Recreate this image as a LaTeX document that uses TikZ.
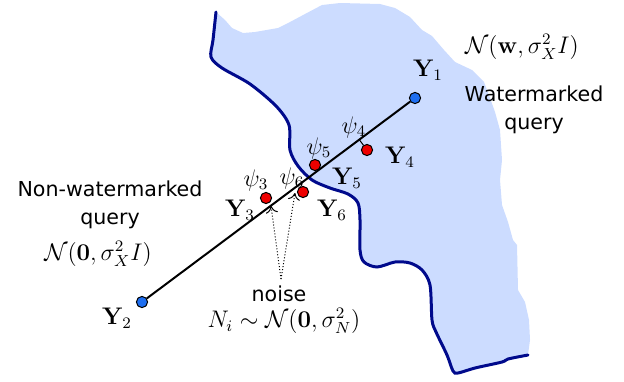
\documentclass[tikz,border=0pt]{standalone}
\usepackage[no-math]{fontspec}
\usepackage{amsmath,amssymb}
\usepackage{tikz}
\usetikzlibrary{arrows.meta,positioning,calc}
\newfontfamily\querysans{DejaVu Sans}
\definecolor{wmfill}{HTML}{CCDCFF}
\definecolor{wmborder}{HTML}{000A8C}
\definecolor{dotred}{HTML}{EE0000}
\definecolor{dotblue}{HTML}{1E6EF0}

\begin{document}
\begin{tikzpicture}[x=0.5pt, y=-0.5pt,
  dot/.style={circle, draw=black, line width=0.5pt, inner sep=0pt, minimum size=5.6pt},
  reddot/.style={dot, fill=dotred},
  bluedot/.style={dot, fill=dotblue},
  lab/.style={inner sep=0pt, font=\fontsize{11.6}{14}\selectfont},
  txt/.style={inner sep=0pt, align=center, font=\querysans\fontsize{10.3}{14}\selectfont},
  query/.style={line width=1pt},
  noisearrow/.style={densely dotted, line width=0.5pt, -{To[length=3.5pt, width=6pt]}}
]
\useasboundingbox (0,0) rectangle (624,381);

% watermarked region
\fill[wmfill] plot[smooth, tension=0.5] coordinates {(216,12) (213,40) (211,57) (222,68) (250,84) (276,106) (289,125) (290,150) (298,166) (312,180) (330,188) (348,194) (358,203) (360,220) (360,250) (364,262) (377,267) (395,262) (410,263) (422,270) (430,285) (432,320) (436,332) (447,355) (453,371) (458,373) (475,368) (502,362) (508,359) (528,355)}
  -- (530,340) -- (529,320) -- (525,302) -- (518,290) -- (517,245) -- (513,240) -- (508,222) -- (502,205) -- (500,180) -- (502,160) -- (500,130) -- (495,112) -- (490,98) -- (484,82) -- (472,70) -- (455,62) -- (444,50) -- (432,36) -- (422,30) -- (410,17) -- (395,8) -- (380,4) -- (340,3) -- (322,5) -- (305,14) -- (290,22) -- (278,28) -- (255,32) -- (243,33) -- (232,28) -- (225,20) -- cycle;
\draw[wmborder, line width=1.5pt, line cap=round] plot[smooth, tension=0.5] coordinates {(216,12) (213,40) (211,57) (222,68) (250,84) (276,106) (289,125) (290,150) (298,166) (312,180) (330,188) (348,194) (358,203) (360,220) (360,250) (364,262) (377,267) (395,262) (410,263) (422,270) (430,285) (432,320) (436,332) (447,355) (453,371) (458,373) (475,368) (502,362) (508,359) (528,355)};

% queries
\node[bluedot] (y1) at (415,98) {};
\node[bluedot] (y2) at (142,302) {};
\node[reddot] (y3) at (266,198) {};
\node[reddot] (y4) at (367,150) {};
\node[reddot] (y5) at (315,165) {};
\node[reddot] (y6) at (303,192) {};

\draw[query] (y2) -- (y1);
\draw[line width=0.5pt] (y4) -- ($(y2.center)!(y4.center)!(y1.center)$);

\node[lab] (ly1) at (428,70) {$\mathbf{Y}_1$};
\node[lab] (ly2) at (117,318) {$\mathbf{Y}_2$};
\node[lab] (ly3) at (240,210) {$\mathbf{Y}_3$};
\node[lab] (ly4) at (400,157) {$\mathbf{Y}_4$};
\node[lab] (ly5) at (347,178) {$\mathbf{Y}_5$};
\node[lab] (ly6) at (332,210) {$\mathbf{Y}_6$};
\node[lab] (psi3) at (256,180) {$\psi_3$};
\node[lab] (psi4) at (354,127) {$\psi_4$};
\node[lab] (psi5) at (319,148) {$\psi_5$};
\node[lab] (psi6) at (292,178) {$\psi_6$};

\node[lab] (distw) at (522,47) {$\mathcal{N}(\mathbf{w},\sigma_X^2 I)$};
\node[txt] (wm) at (534,110) {Watermarked\\query};
\node[txt] (nwm) at (110,205) {Non-watermarked\\query};
\node[lab] (dist0) at (98,254) {$\mathcal{N}(\mathbf{0},\sigma_X^2 I)$};

% noise
\node[txt] (noise) at (279,294) {noise};
\node[lab] (distn) at (284,321) {$N_i\sim\mathcal{N}(\mathbf{0},\sigma_N^2)$};
\coordinate (nsrc) at (281,279);
\coordinate (n3) at (271,206);
\coordinate (n6) at (295,193);
\draw[noisearrow] (nsrc) -- (n3);
\draw[noisearrow] (nsrc) -- (n6);
\end{tikzpicture}
\end{document}
